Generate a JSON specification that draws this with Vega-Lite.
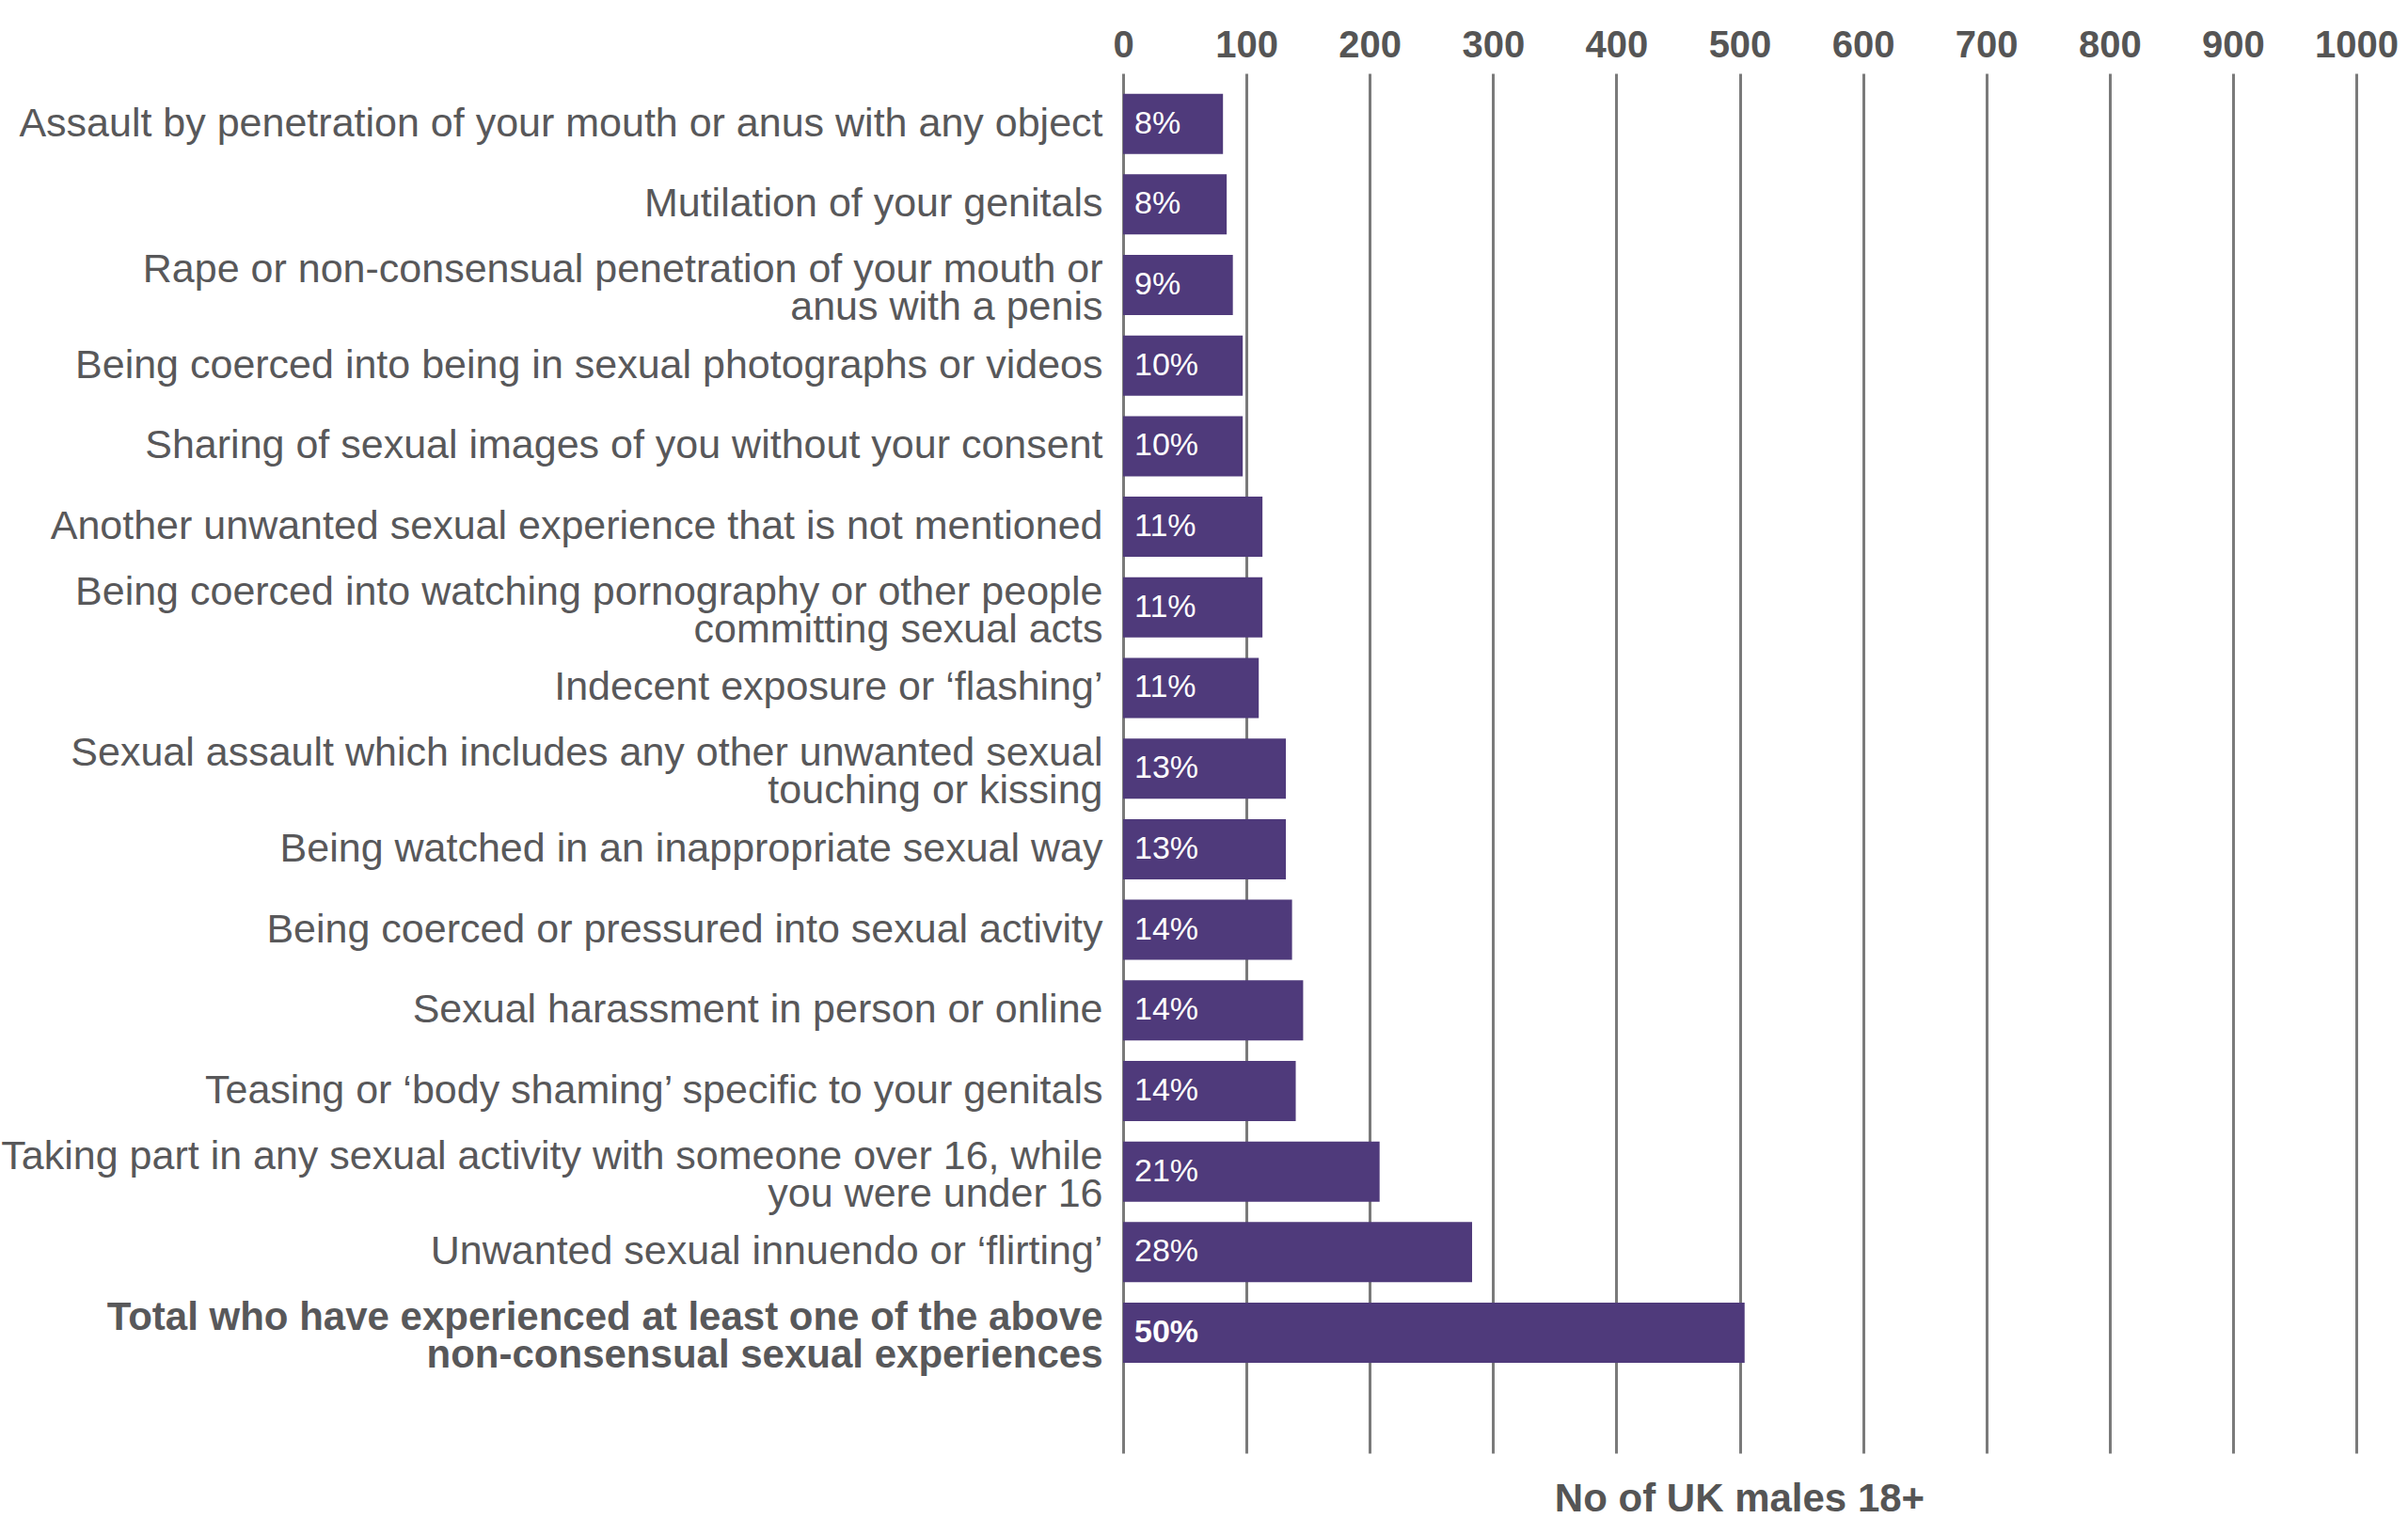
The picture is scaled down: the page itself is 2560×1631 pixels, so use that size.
{
  "$schema": "https://vega.github.io/schema/vega-lite/v6.json",
  "autosize": {"type": "none"},
  "width": 1311,
  "height": 1467,
  "padding": {"left": 1194, "top": 78, "right": 55, "bottom": 86},
  "background": "white",
  "config": {
    "view": {"stroke": null},
    "font": "Liberation Sans"
  },
  "title": {
    "text": "No of UK males 18+",
    "orient": "bottom",
    "anchor": "middle",
    "frame": "group",
    "fontSize": 42,
    "fontWeight": "bold",
    "color": "#555555",
    "font": "Liberation Sans",
    "offset": 29
  },
  "data": {
    "values": [
      {"cat": "Assault by penetration of your mouth or anus with any object", "n": 81, "pct": 0.08},
      {"cat": "Mutilation of your genitals", "n": 84, "pct": 0.08},
      {"cat": "Rape or non-consensual penetration of your mouth or|anus with a penis", "n": 89, "pct": 0.09},
      {"cat": "Being coerced into being in sexual photographs or videos", "n": 97, "pct": 0.10},
      {"cat": "Sharing of sexual images of you without your consent", "n": 97, "pct": 0.10},
      {"cat": "Another unwanted sexual experience that is not mentioned", "n": 113, "pct": 0.11},
      {"cat": "Being coerced into watching pornography or other people|committing sexual acts", "n": 113, "pct": 0.11},
      {"cat": "Indecent exposure or ‘flashing’", "n": 110, "pct": 0.11},
      {"cat": "Sexual assault which includes any other unwanted sexual|touching or kissing", "n": 132, "pct": 0.13},
      {"cat": "Being watched in an inappropriate sexual way", "n": 132, "pct": 0.13},
      {"cat": "Being coerced or pressured into sexual activity", "n": 137, "pct": 0.14},
      {"cat": "Sexual harassment in person or online", "n": 146, "pct": 0.14},
      {"cat": "Teasing or ‘body shaming’ specific to your genitals", "n": 140, "pct": 0.14},
      {"cat": "Taking part in any sexual activity with someone over 16, while|you were under 16", "n": 208, "pct": 0.21},
      {"cat": "Unwanted sexual innuendo or ‘flirting’", "n": 283, "pct": 0.28},
      {"cat": "Total who have experienced at least one of the above|non-consensual sexual experiences", "n": 504, "pct": 0.50}
    ]
  },
  "encoding": {
    "y": {
      "field": "cat",
      "type": "nominal",
      "sort": null,
      "scale": {"paddingInner": 0.253, "paddingOuter": 0.686, "align": 0.184},
      "axis": {
        "title": null,
        "ticks": false,
        "domain": false,
        "grid": false,
        "labelPadding": 22,
        "labelFontSize": {"condition": {"test": "indexof(datum.value, 'Total') === 0", "value": 42}, "value": 43},
        "labelFont": "Liberation Sans",
        "labelColor": "#58585a",
        "labelLimit": 1400,
        "labelLineHeight": 40,
        "labelExpr": "split(datum.value, '|')",
        "labelOffset": {"condition": {"test": "indexof(datum.value, '|') >= 0", "value": -16}, "value": 0},
        "labelFontWeight": {"condition": {"test": "indexof(datum.value, 'Total') === 0", "value": "bold"}, "value": "normal"}
      }
    }
  },
  "layer": [
    {
      "mark": {"type": "bar", "color": "#4f3a7b"},
      "encoding": {
        "x": {
          "field": "n",
          "type": "quantitative",
          "scale": {"domain": [0, 1000], "nice": false},
          "axis": {
            "orient": "top",
            "title": null,
            "values": [0, 100, 200, 300, 400, 500, 600, 700, 800, 900, 1000],
            "format": "d",
            "ticks": false,
            "tickSize": 0,
            "domain": false,
            "grid": true,
            "gridColor": "#7a7a7a",
            "gridWidth": 3,
            "gridOpacity": 1,
            "labelFontSize": 40,
            "labelFontWeight": "bold",
            "labelFont": "Liberation Sans",
            "labelColor": "#555555",
            "labelBaseline": "alphabetic",
            "labelPadding": 18,
            "labelFlush": false,
            "labelOverlap": false
          }
        }
      }
    },
    {
      "transform": [{"filter": "indexof(datum.cat, 'Total') !== 0"}],
      "mark": {"type": "text", "align": "left", "baseline": "middle", "dx": 12, "fontSize": 34, "color": "white", "font": "Liberation Sans"},
      "encoding": {
        "x": {"datum": 0, "type": "quantitative"},
        "text": {"field": "pct", "type": "quantitative", "format": ".0%"}
      }
    },
    {
      "transform": [{"filter": "indexof(datum.cat, 'Total') === 0"}],
      "mark": {"type": "text", "align": "left", "baseline": "middle", "dx": 12, "fontSize": 34, "fontWeight": "bold", "color": "white", "font": "Liberation Sans"},
      "encoding": {
        "x": {"datum": 0, "type": "quantitative"},
        "text": {"field": "pct", "type": "quantitative", "format": ".0%"}
      }
    }
  ]
}
